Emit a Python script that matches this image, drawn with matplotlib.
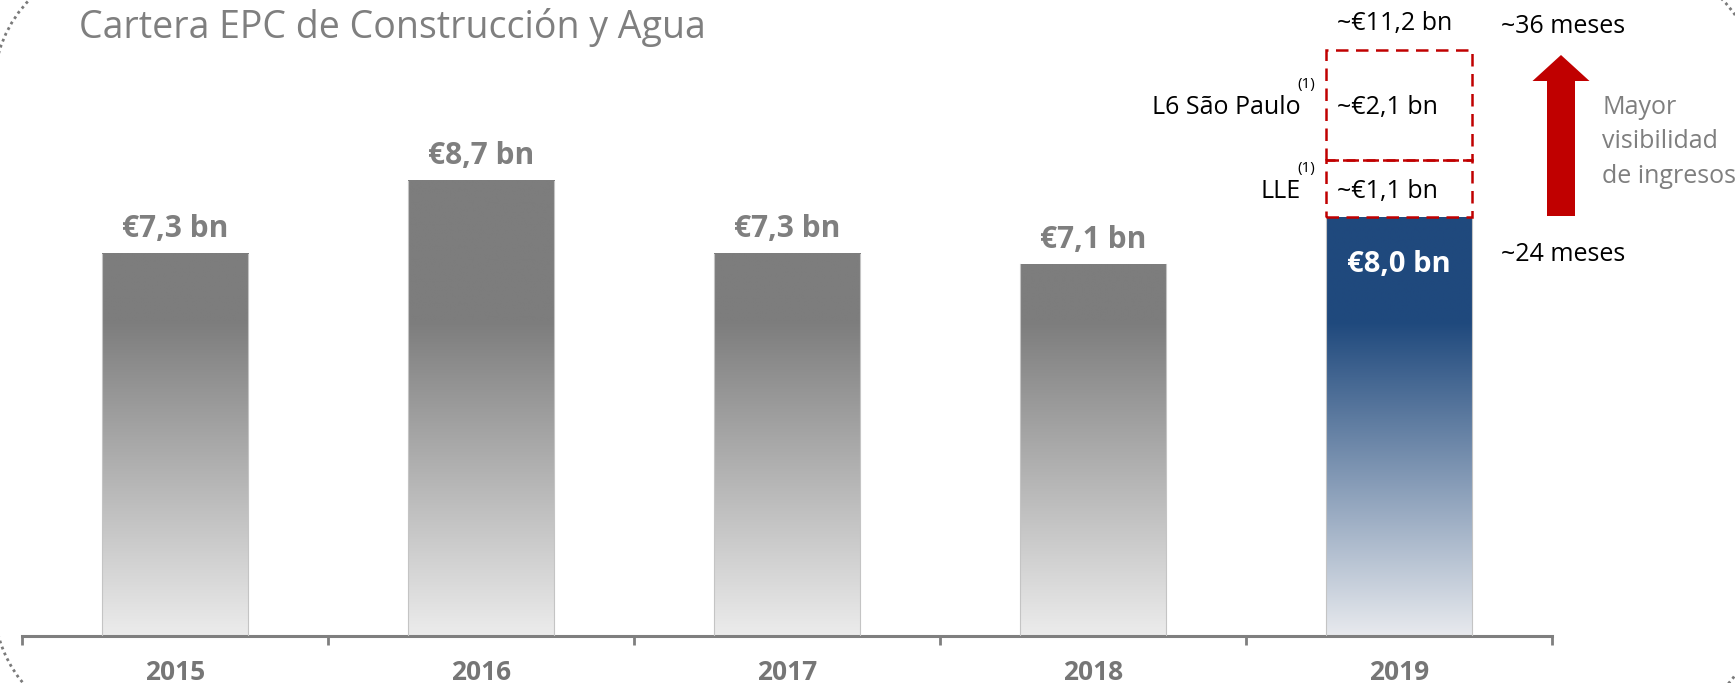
import numpy as np
import matplotlib
matplotlib.use("Agg")
import matplotlib.pyplot as plt
from matplotlib.patches import Rectangle, Arc, FancyArrow
from matplotlib.colors import to_rgb
from matplotlib.transforms import IdentityTransform

plt.rcParams['font.family'] = ['Open Sans', 'DejaVu Sans']

# data
years = ["2015", "2016", "2017", "2018", "2019"]
backlog = [7.3, 8.7, 7.3, 7.1, 8.0]
backlog_labels = ["€7,3 bn", "€8,7 bn", "€7,3 bn", "€7,1 bn", "€8,0 bn"]
extra_names = ["LLE", "L6 São Paulo"]
extra_values = [1.1, 2.1]
extra_labels = ["~€1,1 bn", "~€2,1 bn"]
total_label = "~€11,2 bn"
months_low = "~24 meses"
months_high = "~36 meses"
visibility_lines = ["Mayor", "visibilidad", "de ingresos"]
title = "Cartera EPC de Construcción y Agua"

W, H = 1735, 683
GRAY = "#7f7f7f"
RED = "#c00000"
BAR_W = 0.48


def px(x, y):
    # pixel position (from top-left) -> figure fraction
    return x / W, 1 - y / H


def gradient_bar(ax, x, h, dark, light, solid_from=6.0):
    ys = np.linspace(0, h, 400)
    t = np.clip(ys / solid_from, 0, 1)
    d = np.array(to_rgb(dark))
    l = np.array(to_rgb(light))
    img = (l + (d - l) * t[:, None])[:, None, :]
    ax.imshow(img, extent=(x - BAR_W / 2, x + BAR_W / 2, 0, h), origin='lower',
              aspect='auto', interpolation='bilinear', zorder=2)
    for side in (x - BAR_W / 2, x + BAR_W / 2):
        ax.plot([side, side], [0, h], color="#c4c4c4", lw=0.8, zorder=3)


fig = plt.figure(figsize=(W / 100, H / 100), dpi=100)
ax = fig.add_axes([22 / W, 47 / H, (1552 - 22) / W, 636 / H])

for i, v in enumerate(backlog):
    if i == len(backlog) - 1:
        gradient_bar(ax, i, v, "#1f497d", "#e8eaee")
        ax.annotate(backlog_labels[i], (i, v), xytext=(0, -34), textcoords='offset points',
                    ha='center', va='center', color='white', fontsize=21, fontweight='bold', zorder=5)
    else:
        gradient_bar(ax, i, v, "#7d7d7d", "#ececec")
        ax.annotate(backlog_labels[i], (i, v), xytext=(0, 12), textcoords='offset points',
                    ha='center', va='baseline', color=GRAY, fontsize=21.5, fontweight='bold')

# dashed boxes stacked on top of 2019
last = len(backlog) - 1
bottom = backlog[last]
for name, val, lab in zip(extra_names, extra_values, extra_labels):
    ax.add_patch(Rectangle((last - BAR_W / 2, bottom), BAR_W, val, fill=False,
                           ec=RED, lw=1.8, ls=(0, (5, 3)), zorder=4, clip_on=False))
    mid = bottom + val / 2
    ax.annotate(lab, (last, mid), xytext=(-8, 0), textcoords='offset points',
                ha='center', va='center_baseline', fontsize=18, color='black')
    ax.annotate(name, (last - BAR_W / 2, mid), xytext=(-18, 0), textcoords='offset points',
                ha='right', va='center_baseline', fontsize=18, color='black')
    ax.annotate("(1)", (last - BAR_W / 2, mid), xytext=(-14, 16), textcoords='offset points',
                ha='center', va='center_baseline', fontsize=11, color='black')
    bottom += val
ax.annotate(total_label, (last, bottom), xytext=(-3, 21), textcoords='offset points',
            ha='center', va='center_baseline', fontsize=18, color='black')

ax.set_xlim(-0.5, len(years) - 0.5)
ax.set_ylim(0, 636 / 52.35)
for s in ["top", "right", "left"]:
    ax.spines[s].set_visible(False)
ax.spines["bottom"].set_color(GRAY)
ax.spines["bottom"].set_linewidth(2.2)
ax.set_yticks([])
ax.set_xticks(np.arange(len(years)))
ax.set_xticklabels([])
ax.tick_params(axis='x', which='major', length=0)
ax.set_xticks(np.arange(-0.5, len(years)), minor=True)
ax.tick_params(axis='x', which='minor', direction='out', length=6.5, width=2, color=GRAY)
for i, y in enumerate(years):
    ax.text(i, -44 / 52.35, y, ha='center', va='baseline', fontsize=19,
            fontweight='bold', color="#767676", clip_on=False)

# title and right hand notes
fig.text(*px(79, 38), title, fontsize=27, color=GRAY, ha='left', va='baseline')
fig.text(*px(1501, 33), months_high, fontsize=18, color='black', ha='left', va='baseline')
fig.text(*px(1501, 261), months_low, fontsize=18, color='black', ha='left', va='baseline')
for k, line in enumerate(visibility_lines):
    fig.text(*px(1602, 114 + 34.5 * k), line, fontsize=18, color=GRAY, ha='left', va='baseline')

fig.add_artist(FancyArrow(1561, H - 216, 0, 216 - 55, width=28, head_width=57,
                          head_length=26, length_includes_head=True,
                          color=RED, ec='none', transform=IdentityTransform()))

# dotted rounded slide frame (only the corners show)
r = 125
corners = [(119, 87, 90, 180), (119, 603, 180, 270), (1633, 87, 0, 90), (1633, 603, 270, 360)]
for cx, cy, a0, a1 in corners:
    fig.add_artist(Arc(px(cx, cy), 2 * r / W, 2 * r / H, theta1=a0, theta2=a1,
                       transform=fig.transFigure, ec="#7a7a7a", lw=2, ls=(0, (1, 1.3))))

fig.savefig("out.png", dpi=100)
